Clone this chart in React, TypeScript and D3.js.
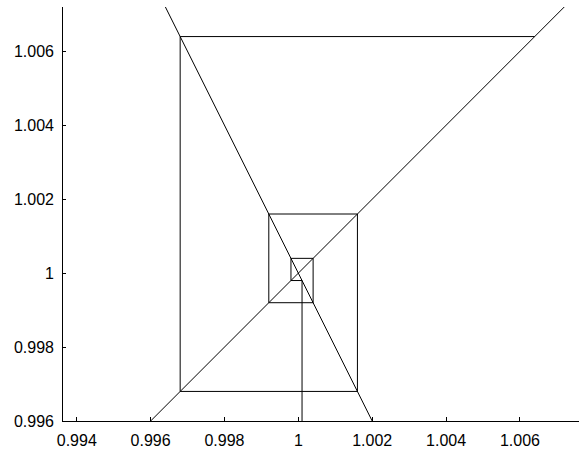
import React from "react";
import * as d3 from "d3";

const W = 579;
const H = 453;

// Cobweb iterates (x_n values)
const iterates = [1.0001, 0.9998, 1.0004, 0.9992, 1.0016, 0.9968, 1.0064];
// Map line endpoints (y = f(x)) and identity line endpoints
const mapLineX = [0.9936, 1.0076];
const mapLineY = [1.0128, 0.9848];
const identityX = [0.9936, 1.0076];
const identityY = [0.9936, 1.0076];

const xTicks = [0.994, 0.996, 0.998, 1, 1.002, 1.004, 1.006];
const yTicks = [0.996, 0.998, 1, 1.002, 1.004, 1.006];

const xDomain = [0.9936, 1.0076];
const yDomain = [0.996, 1.0072];

export default function App() {
  const left = 62, right = 579, top = 7, bottom = 421;
  const x = d3.scaleLinear().domain(xDomain).range([left, right]);
  const y = d3.scaleLinear().domain(yDomain).range([bottom, top]);
  const line = d3.line<[number, number]>().x((d) => x(d[0])).y((d) => y(d[1]));

  const mapPts: [number, number][] = mapLineX.map((v, i) => [v, mapLineY[i]]);
  const idPts: [number, number][] = identityX.map((v, i) => [v, identityY[i]]);

  const cob: [number, number][] = [[iterates[0], yDomain[0]]];
  for (let i = 0; i < iterates.length - 1; i++) {
    cob.push([iterates[i], iterates[i + 1]]);
    cob.push([iterates[i + 1], iterates[i + 1]]);
  }

  const fmt = (v: number) => d3.format("~g")(+v.toFixed(4));
  const font = "'Liberation Sans', Arial, Helvetica, sans-serif";

  return (
    <svg width={W} height={H} style={{ position: "absolute", left: 0, top: 0, background: "#fff" }}>
      <defs>
        <clipPath id="plot">
          <rect x={left} y={top} width={right - left} height={bottom - top} />
        </clipPath>
      </defs>
      <g clipPath="url(#plot)" fill="none" stroke="#000" strokeWidth={1}>
        <path d={line(idPts) || ""} />
        <path d={line(mapPts) || ""} />
        <path d={line(cob) || ""} />
      </g>
      <g stroke="#000" strokeWidth={1} shapeRendering="crispEdges">
        <line x1={left} x2={left} y1={top} y2={bottom} />
        <line x1={left} x2={right} y1={bottom} y2={bottom} />
        {xTicks.map((t) => (
          <line key={"xt" + t} x1={x(t)} x2={x(t)} y1={bottom} y2={bottom - 4} />
        ))}
        {yTicks.map((t) => (
          <line key={"yt" + t} x1={left} x2={left + 4} y1={y(t)} y2={y(t)} />
        ))}
      </g>
      <g fontFamily={font} fontSize={16} fill="#000">
        {xTicks.map((t) => (
          <text key={"xl" + t} x={x(t)} y={446} textAnchor="middle">
            {fmt(t)}
          </text>
        ))}
        {yTicks.map((t) => (
          <text key={"yl" + t} x={54} y={y(t)} dy="0.35em" textAnchor="end">
            {fmt(t)}
          </text>
        ))}
      </g>
    </svg>
  );
}
